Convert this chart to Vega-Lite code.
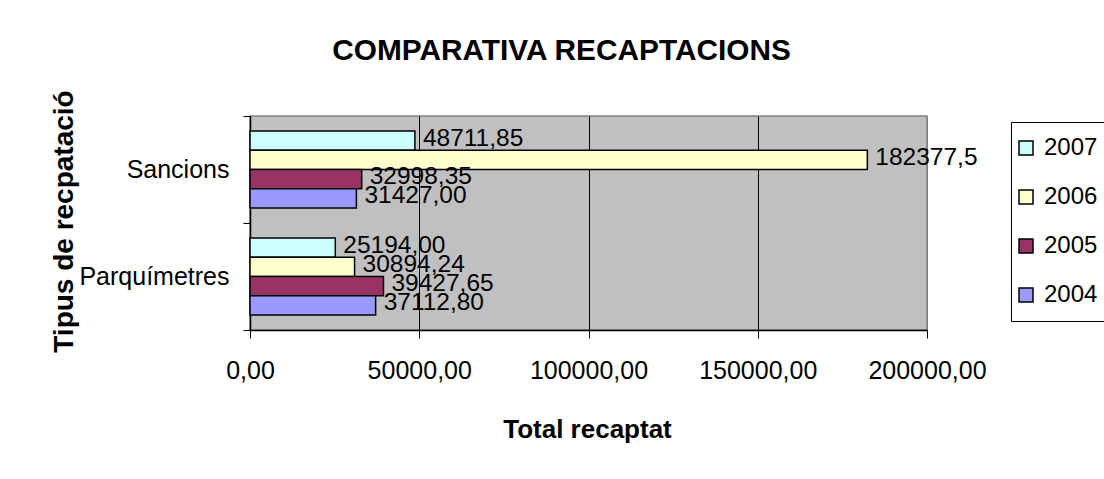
{
  "$schema": "https://vega.github.io/schema/vega-lite/v6.json",
  "width": 677,
  "height": 214,
  "autosize": {"type": "none"},
  "padding": {"left": 250, "top": 116, "right": 177, "bottom": 149},
  "background": "white",
  "title": {
    "text": "COMPARATIVA RECAPTACIONS",
    "anchor": "middle",
    "frame": "group",
    "dx": -27,
    "dy": 53,
    "font": "Liberation Sans",
    "fontSize": 29.8,
    "fontWeight": "bold",
    "color": "black",
    "baseline": "alphabetic",
    "offset": 53
  },
  "data": {
    "values": [
      {"cat": "Sancions", "year": "2007", "value": 48711.85, "label": "48711,85"},
      {"cat": "Sancions", "year": "2006", "value": 182377.5, "label": "182377,5"},
      {"cat": "Sancions", "year": "2005", "value": 32998.35, "label": "32998,35"},
      {"cat": "Sancions", "year": "2004", "value": 31427.0, "label": "31427,00"},
      {"cat": "Parquímetres", "year": "2007", "value": 25194.0, "label": "25194,00"},
      {"cat": "Parquímetres", "year": "2006", "value": 30894.24, "label": "30894,24"},
      {"cat": "Parquímetres", "year": "2005", "value": 39427.65, "label": "39427,65"},
      {"cat": "Parquímetres", "year": "2004", "value": 37112.8, "label": "37112,80"}
    ]
  },
  "encoding": {
    "y": {
      "field": "cat",
      "type": "nominal",
      "sort": ["Sancions", "Parquímetres"],
      "scale": {"paddingInner": 0, "paddingOuter": 0},
      "axis": {
        "title": "Tipus de recpatació",
        "tickBand": "extent",
        "tickSize": 7,
        "labelPadding": 14,
        "labelFontSize": 25,
        "labelFont": "Liberation Sans",
        "labelColor": "black",
        "titleFont": "Liberation Sans",
        "titleFontSize": 28,
        "titleFontWeight": "bold",
        "titleColor": "black",
        "titleAngle": -90,
        "titleX": -178,
        "titleY": 105,
        "titleAlign": "center",
        "titleBaseline": "alphabetic",
        "domainColor": "black",
        "domainWidth": 1.5,
        "tickColor": "black",
        "grid": false
      }
    },
    "yOffset": {
      "field": "year",
      "type": "nominal",
      "sort": ["2007", "2006", "2005", "2004"],
      "scale": {"paddingInner": 0, "paddingOuter": 0.78}
    },
    "x": {
      "field": "value",
      "type": "quantitative",
      "scale": {"domain": [0, 200000], "nice": false},
      "axis": {
        "title": "Total recaptat",
        "values": [0, 50000, 100000, 150000, 200000],
        "labelExpr": "replace(format(datum.value, '.2f'), '.', ',')",
        "tickSize": 8,
        "labelPadding": 20,
        "labelFont": "Liberation Sans",
        "labelFontSize": 25,
        "labelColor": "black",
        "labelFlush": false,
        "labelOverlap": false,
        "titleFont": "Liberation Sans",
        "titleFontSize": 26,
        "titleFontWeight": "bold",
        "titleColor": "black",
        "titleX": 337,
        "titleY": 107,
        "titleBaseline": "alphabetic",
        "grid": true,
        "gridColor": {"condition": {"test": "datum.value === 200000", "value": "#808080"}, "value": "black"},
        "gridWidth": 1,
        "domainColor": "black",
        "domainWidth": 1.5,
        "tickColor": "black"
      }
    }
  },
  "layer": [
    {
      "mark": {"type": "bar", "stroke": "black", "strokeWidth": 1.5},
      "encoding": {
        "color": {
          "field": "year",
          "type": "nominal",
          "scale": {
            "domain": ["2007", "2006", "2005", "2004"],
            "range": ["#CCFFFF", "#FFFFCC", "#993366", "#9999FF"]
          },
          "legend": {
            "title": null,
            "orient": "none",
            "legendX": 761,
            "legendY": 6,
            "direction": "vertical",
            "padding": 14,
            "strokeColor": "black",
            "fillColor": "white",
            "symbolType": "square",
            "symbolSize": 196,
            "symbolOffset": -11,
            "symbolStrokeColor": "black",
            "symbolStrokeWidth": 1.5,
            "symbolOpacity": 1,
            "labelFont": "Liberation Sans",
            "labelFontSize": 24,
            "labelColor": "black",
            "labelOffset": 6,
            "rowPadding": 25
          }
        }
      }
    },
    {
      "mark": {
        "type": "text",
        "align": "left",
        "baseline": "middle",
        "dx": 8,
        "dy": -2,
        "font": "Liberation Sans",
        "fontSize": 24.5,
        "color": "black"
      },
      "encoding": {
        "text": {"field": "label", "type": "nominal"}
      }
    }
  ],
  "config": {
    "font": "Liberation Sans",
    "view": {"fill": "#C0C0C0", "stroke": "#808080", "strokeWidth": 1.5}
  }
}
